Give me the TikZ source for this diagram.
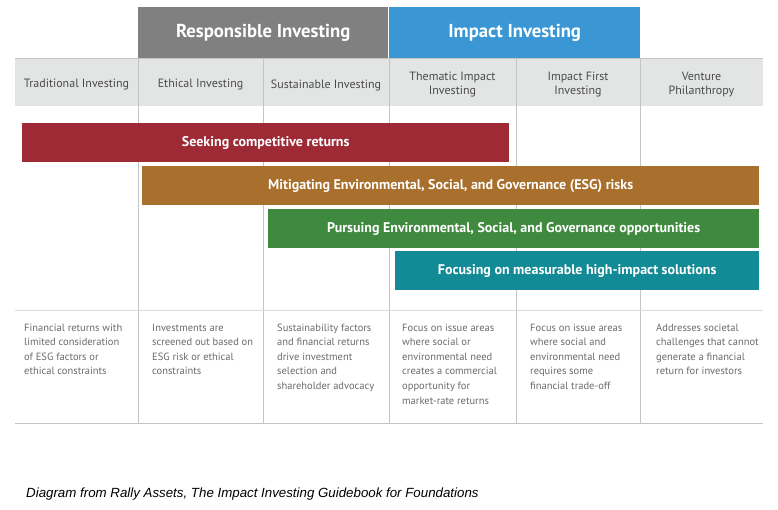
\documentclass[tikz,border=0pt]{standalone}
\usepackage{fontspec}
\setmainfont{PT Sans}
\newfontfamily\capfont{Liberation Sans}
\definecolor{hdrgray}{HTML}{808080}
\definecolor{hdrblue}{HTML}{3A97D4}
\definecolor{band}{HTML}{E3E5E5}
\definecolor{subtxt}{HTML}{4A4A4A}
\definecolor{bodytxt}{HTML}{6A6A6A}
\definecolor{gridln}{HTML}{C4C4C4}
\definecolor{barred}{HTML}{9E2A36}
\definecolor{barorange}{HTML}{A8702C}
\definecolor{bargreen}{HTML}{408A3F}
\definecolor{barteal}{HTML}{138B96}
\begin{document}
\begin{tikzpicture}[x=1pt,y=-1pt,
  hdr/.style={anchor=north west, minimum height=51pt, inner sep=0pt, text=white, font=\bfseries\fontsize{18.7}{22}\selectfont},
  sub/.style={align=center, text=subtxt, font=\fontsize{12}{14}\selectfont, inner sep=0pt},
  bar/.style={anchor=north west, minimum height=39pt, inner sep=0pt, text=white, font=\bfseries\fontsize{14}{16}\selectfont},
  body/.style={anchor=north west, align=left, text=bodytxt, font=\fontsize{10.5}{14.6}\selectfont, inner sep=0pt},
  gl/.style={draw=gridln, line width=0.8pt}]
\useasboundingbox (0,0) rectangle (778,509);
% header boxes
\node[hdr, fill=hdrgray, minimum width=250pt] (resp) at (138,7) {Responsible Investing};
\node[hdr, fill=hdrblue, minimum width=251pt] (imp) at (389,7) {Impact Investing};
% subheader band
\fill[band] (15,58) rectangle (763,106);
\draw[gl] (15,58) -- (763,58);
% grid lines
\foreach \xx in {138,263,389,516,640} { \draw[gl] (\xx,58) -- (\xx,423); }
\draw[gl, draw=gridln!60] (15,310) -- (763,310);
\draw[gl] (15,423) -- (763,423);
% subheaders
\node[sub] (c1) at (76.5,85) {Traditional Investing};
\node[sub] (c2) at (200.5,85) {Ethical Investing};
\node[sub] (c3) at (326,85) {Sustainable Investing};
\node[sub] (c4) at (452.5,84.5) {Thematic Impact\\Investing};
\node[sub] (c5) at (578,84.5) {Impact First\\Investing};
\node[sub] (c6) at (701.5,84.5) {Venture\\Philanthropy};
% bars
\node[bar, fill=barred, minimum width=487pt] (b1) at (22,123) {Seeking competitive returns};
\node[bar, fill=barorange, minimum width=617pt] (b2) at (142,166) {Mitigating Environmental, Social, and Governance (ESG) risks};
\node[bar, fill=bargreen, minimum width=491pt] (b3) at (268,209) {Pursuing Environmental, Social, and Governance opportunities};
\node[bar, fill=barteal, minimum width=364pt] (b4) at (395,251) {Focusing on measurable high-impact solutions};
% body texts
\node[body] (t1) at (24,323.5) {Financial returns with\\limited consideration\\of ESG factors or\\ethical constraints};
\node[body] (t2) at (152,323.5) {Investments are\\screened out based on\\ESG risk or ethical\\constraints};
\node[body] (t3) at (277,323.5) {Sustainability factors\\and financial returns\\drive investment\\selection and\\shareholder advocacy};
\node[body] (t4) at (402,323.5) {Focus on issue areas\\where social or\\environmental need\\creates a commercial\\opportunity for\\market-rate returns};
\node[body] (t5) at (530,323.5) {Focus on issue areas\\where social and\\environmental need\\requires some\\financial trade-off};
\node[body] (t6) at (656,323.5) {Addresses societal\\challenges that cannot\\generate a financial\\return for investors};
% caption
\node[anchor=west, inner sep=0pt, font=\capfont\itshape\fontsize{13.3}{15}\selectfont] (cap) at (26,494) {Diagram from Rally Assets, The Impact Investing Guidebook for Foundations};
\end{tikzpicture}
\end{document}
